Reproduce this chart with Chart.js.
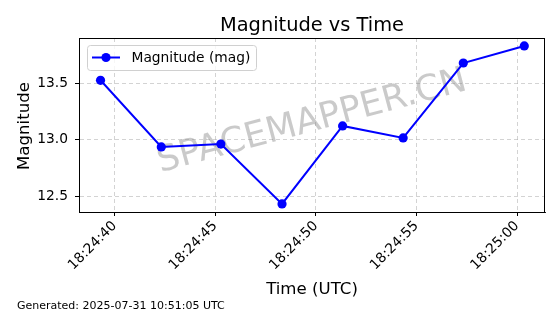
<!DOCTYPE html>
<html lang="en">
<head>
<meta charset="UTF-8">
<title>Magnitude vs Time</title>
<script src="https://cdn.jsdelivr.net/npm/chart.js@4"></script>
<style>
  body { margin: 0; background: #fff; }
  #wrap { width: 560px; height: 314px; }
</style>
</head>
<body>
<div id="wrap"><canvas id="magChart" width="560" height="314"></canvas></div>
<script>
const obsTimes = ['18:24:39.30', '18:24:42.32', '18:24:45.28', '18:24:48.32', '18:24:51.33', '18:24:54.34', '18:24:57.33', '18:25:00.36'];
const magnitudes = [13.524, 12.938, 12.963, 12.436, 13.122, 13.017, 13.676, 13.826];
const xTickLabels = ['18:24:40', '18:24:45', '18:24:50', '18:24:55', '18:25:00'];
const yTickValues = [12.5, 13.0, 13.5];
const seriesLabel = 'Magnitude (mag)';
const generatedAt = 'Generated: 2025-07-31 10:51:05 UTC';
const watermark = 'SPACEMAPPER.CN';

const FONT = '"DejaVu Sans", "Liberation Sans", sans-serif';
const BASE = 18 * 3600 + 24 * 60;

function toSec(t) {
    const p = t.split(':');
    return (+p[0]) * 3600 + (+p[1]) * 60 + parseFloat(p[2]) - BASE;
}

const points = obsTimes.map((t, i) => ({ x: toSec(t), y: magnitudes[i] }));
const xTickValues = xTickLabels.map(toSec);

// titles, footer, watermark, legend and the box around the plot
const decorations = {
    id: 'decorations',
    beforeDatasetsDraw(chart) {
        const ctx = chart.ctx;
        ctx.save();
        ctx.translate(312, 122);
        ctx.rotate(-15 * Math.PI / 180);
        ctx.font = '35.5px ' + FONT;
        ctx.fillStyle = 'rgba(128,128,128,0.42)';
        ctx.textAlign = 'center';
        ctx.textBaseline = 'middle';
        ctx.fillText(watermark, 0, 0);
        ctx.restore();
    },
    afterDatasetsDraw(chart) {
        const { ctx, chartArea: a } = chart;
        ctx.save();
        ctx.strokeStyle = '#000';
        ctx.lineWidth = 1;
        ctx.strokeRect(Math.round(a.left) + 0.5, Math.round(a.top) + 0.5,
            Math.round(a.right - a.left) - 1, Math.round(a.bottom - a.top));
        ctx.restore();
    },
    afterDraw(chart) {
        const ctx = chart.ctx;
        ctx.save();
        ctx.fillStyle = '#000';

        ctx.font = '19.4px ' + FONT;
        ctx.textAlign = 'center';
        ctx.textBaseline = 'alphabetic';
        ctx.fillText('Magnitude vs Time', 312, 30.5);

        ctx.font = '16.6px ' + FONT;
        ctx.fillText('Time (UTC)', 312, 294);

        ctx.save();
        ctx.translate(29, 126);
        ctx.rotate(-Math.PI / 2);
        ctx.fillText('Magnitude', 0, 0);
        ctx.restore();

        ctx.font = '11px ' + FONT;
        ctx.textAlign = 'left';
        ctx.fillText(generatedAt, 17, 309);

        // legend box
        const lx = 87, ly = 45, lw = 169, lh = 25;
        ctx.beginPath();
        ctx.roundRect(lx + 0.5, ly + 0.5, lw, lh, 3);
        ctx.fillStyle = 'rgba(255,255,255,0.8)';
        ctx.fill();
        ctx.strokeStyle = '#d0d0d0';
        ctx.lineWidth = 1;
        ctx.stroke();

        const ds = chart.data.datasets[0];
        ctx.strokeStyle = ds.borderColor;
        ctx.lineWidth = ds.borderWidth;
        ctx.beginPath();
        ctx.moveTo(92, 57.5);
        ctx.lineTo(120, 57.5);
        ctx.stroke();
        ctx.fillStyle = ds.pointBackgroundColor;
        ctx.beginPath();
        ctx.arc(106, 57.5, ds.pointRadius, 0, Math.PI * 2);
        ctx.fill();

        ctx.fillStyle = '#000';
        ctx.font = '13.8px ' + FONT;
        ctx.textBaseline = 'middle';
        ctx.fillText(ds.label, 131.5, 58);
        ctx.restore();
    }
};

const gridCommon = {
    color: 'rgba(176,176,176,0.7)',
    lineWidth: 0.8,
    tickColor: '#000',
    tickLength: 4,
    tickWidth: 1,
    tickBorderDash: []
};

new Chart(document.getElementById('magChart'), {
    type: 'line',
    data: {
        datasets: [{
            label: seriesLabel,
            data: points,
            borderColor: '#0000ff',
            backgroundColor: '#0000ff',
            pointBackgroundColor: '#0000ff',
            pointBorderWidth: 0,
            pointRadius: 4.6,
            borderWidth: 2,
            tension: 0,
            fill: false
        }]
    },
    options: {
        responsive: false,
        animation: false,
        devicePixelRatio: 1,
        layout: { padding: { top: 38, right: 15, left: 0, bottom: 0 } },
        plugins: {
            legend: { display: false },
            title: { display: false },
            tooltip: { enabled: false }
        },
        scales: {
            x: {
                type: 'linear',
                min: 38.23,
                max: 61.39,
                grid: gridCommon,
                border: { display: true, color: '#000', dash: [4, 3] },
                afterFit(scale) { scale.height = 102; },
                afterBuildTicks(scale) { scale.ticks = xTickValues.map(v => ({ value: v })); },
                ticks: {
                    autoSkip: false,
                    minRotation: 45,
                    maxRotation: 45,
                    padding: 2,
                    color: '#000',
                    font: { family: FONT, size: 13.8 },
                    callback: (v) => {
                        const i = xTickValues.findIndex(t => Math.abs(t - v) < 1e-6);
                        return i >= 0 ? xTickLabels[i] : '';
                    }
                }
            },
            y: {
                min: 12.365,
                max: 13.896,
                grid: gridCommon,
                border: { display: true, color: '#000', dash: [4, 3] },
                afterFit(scale) { scale.width = 79; },
                afterBuildTicks(scale) { scale.ticks = yTickValues.map(v => ({ value: v })); },
                ticks: {
                    padding: 7,
                    color: '#000',
                    font: { family: FONT, size: 13.8 },
                    callback: (v) => Number(v).toFixed(1)
                }
            }
        }
    },
    plugins: [decorations]
});
</script>
</body>
</html>
